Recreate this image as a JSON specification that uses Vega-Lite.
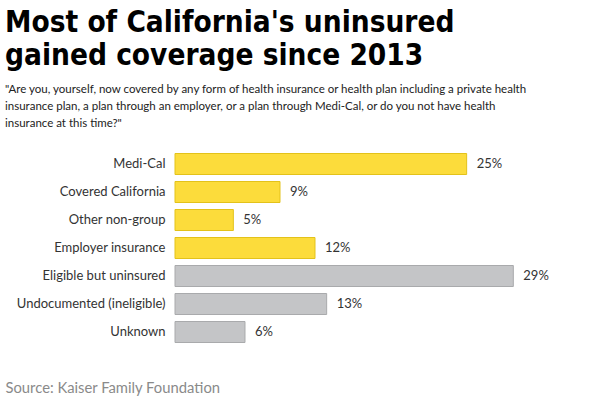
{
  "$schema": "https://vega.github.io/schema/vega-lite/v6.json",
  "autosize": "none",
  "width": 425,
  "height": 196,
  "padding": {"left": 175, "top": 150, "right": 0, "bottom": 52},
  "background": "white",
  "config": {"view": {"stroke": null}},
  "title": {
    "text": ["Most of California's uninsured", "gained coverage since 2013"],
    "subtitle": ["\"Are you, yourself, now covered by any form of health insurance or health plan including a private health", "insurance plan, a plan through an employer, or a plan through Medi-Cal, or do you not have health", "insurance at this time?\""],
    "anchor": "start",
    "frame": "group",
    "dx": -170,
    "offset": 20,
    "font": "DejaVu Sans Condensed",
    "fontSize": 29.5,
    "fontWeight": "bold",
    "lineHeight": 33,
    "color": "#000000",
    "subtitleFont": "Lato",
    "subtitleFontSize": 11.5,
    "subtitleColor": "#222222",
    "subtitleLineHeight": 17,
    "subtitlePadding": 12
  },
  "data": {
    "values": [
      {"category": "Medi-Cal", "share": 0.25, "group": "covered"},
      {"category": "Covered California", "share": 0.09, "group": "covered"},
      {"category": "Other non-group", "share": 0.05, "group": "covered"},
      {"category": "Employer insurance", "share": 0.12, "group": "covered"},
      {"category": "Eligible but uninsured", "share": 0.29, "group": "uninsured"},
      {"category": "Undocumented (ineligible)", "share": 0.13, "group": "uninsured"},
      {"category": "Unknown", "share": 0.06, "group": "uninsured"}
    ]
  },
  "encoding": {
    "y": {
      "field": "category",
      "type": "nominal",
      "sort": null,
      "scale": {"paddingInner": 0.25, "paddingOuter": 0.125},
      "axis": {
        "title": null,
        "ticks": false,
        "domain": false,
        "labelPadding": 10,
        "labelFont": "Lato",
        "labelFontSize": 13,
        "labelColor": "#333333"
      }
    },
    "x": {
      "field": "share",
      "type": "quantitative",
      "scale": {"domain": [0, 0.3643], "nice": false},
      "axis": {
        "title": "Source: Kaiser Family Foundation",
        "labels": false,
        "ticks": false,
        "domain": false,
        "grid": false,
        "titleAnchor": "start",
        "titleAlign": "left",
        "titleX": -170,
        "titleY": 46,
        "titleBaseline": "alphabetic",
        "titleFont": "Lato",
        "titleFontSize": 14.8,
        "titleFontWeight": "normal",
        "titleColor": "#8a8a8a"
      }
    }
  },
  "layer": [
    {
      "mark": {"type": "bar", "strokeWidth": 1},
      "encoding": {
        "fill": {
          "field": "group",
          "type": "nominal",
          "scale": {"domain": ["covered", "uninsured"], "range": ["#FCDC3B", "#C4C5C7"]},
          "legend": null
        },
        "stroke": {
          "field": "group",
          "type": "nominal",
          "scale": {"domain": ["covered", "uninsured"], "range": ["#E3C21A", "#A9AAAC"]},
          "legend": null
        }
      }
    },
    {
      "mark": {"type": "text", "align": "left", "dx": 10, "font": "Lato", "fontSize": 13, "color": "#333333"},
      "encoding": {
        "text": {"field": "share", "type": "quantitative", "format": ".0%"}
      }
    }
  ]
}
